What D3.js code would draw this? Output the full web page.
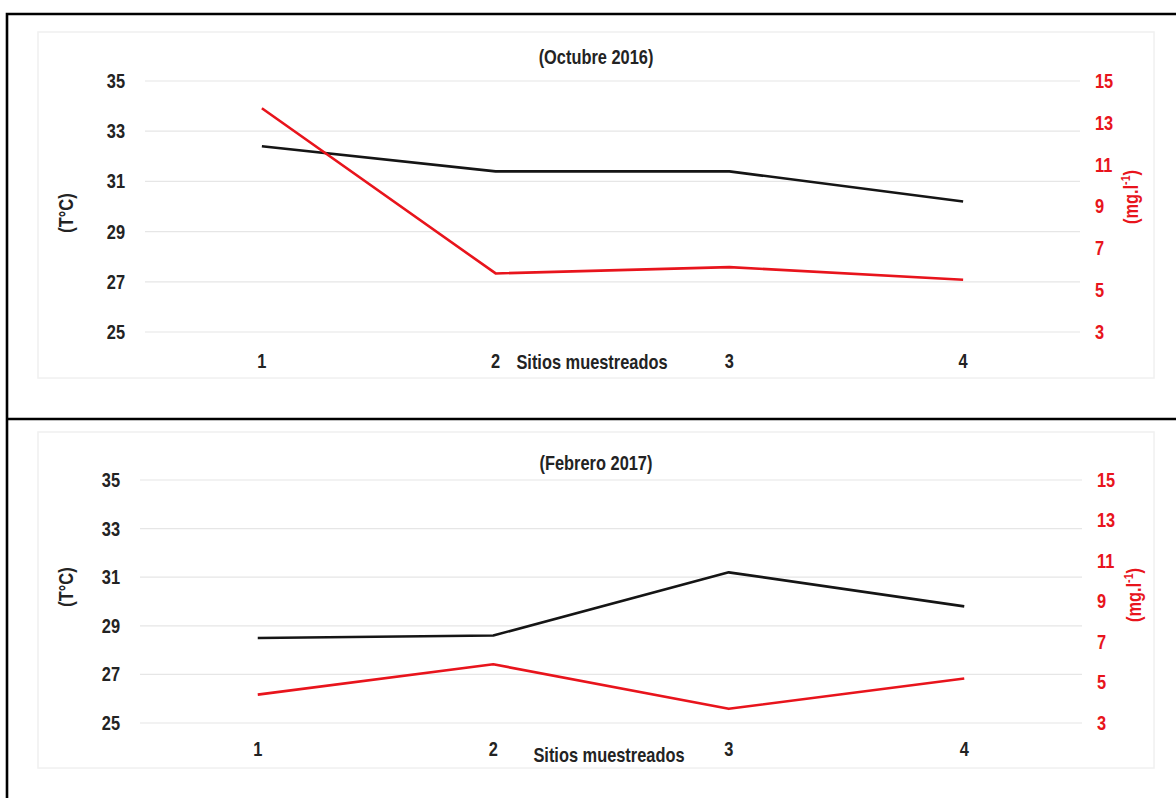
<!DOCTYPE html>
<html>
<head>
<meta charset="utf-8">
<script src="https://cdn.jsdelivr.net/npm/d3@7"></script>
<style>
  html, body { margin: 0; padding: 0; background: #fff; }
  svg { display: block; }
  .lbl { font-family: 'Liberation Sans', Arial, sans-serif; font-weight: bold; }
</style>
</head>
<body>
<svg id="chart" width="1176" height="798"></svg>
<script>
// ---- data ----
const sites = ['1', '2', '3', '4'];
const tempOct = [32.4, 31.4, 31.4, 30.2];
const oxyOct = [13.7, 5.8, 6.1, 5.5];
const tempFeb = [28.5, 28.6, 31.2, 29.8];
const oxyFeb = [4.4, 5.9, 3.7, 5.2];
const tempTicks = [25, 27, 29, 31, 33, 35];
const oxyTicks = [3, 5, 7, 9, 11, 13, 15];
const panelTitles = ['(Octubre 2016)', '(Febrero 2017)'];

const TEXT = '#232323';
const RED = '#e8141c';
const FS = 20;
const NARROW = 0.82; // fake "Arial Narrow" by squeezing Arial-metric text

const svg = d3.select('#chart');

// squeeze text horizontally around its own anchor point
function squeeze(sel) {
    sel.each(function () {
        const t = d3.select(this);
        const x = +t.attr('x') || 0;
        const y = +t.attr('y') || 0;
        t.attr('transform', `translate(${x},${y}) scale(${NARROW},1) translate(${-x},${-y})`);
    });
}

// panel geometry
const panels = [
    { title: panelTitles[0], temp: tempOct, oxy: oxyOct,
      x0: 145, x1: 1080, yTop: 81, yBot: 332,
      box: [38, 32, 1154, 378], titleY: 64, tickY: 368,
      xTitleX: 592, xTitleY: 369, yTitleY: 213, rTitleX: 1131, rTitleY: 197 },
    { title: panelTitles[1], temp: tempFeb, oxy: oxyFeb,
      x0: 140, x1: 1082, yTop: 480, yBot: 723,
      box: [38, 432, 1154, 768], titleY: 470, tickY: 756,
      xTitleX: 609, xTitleY: 762, yTitleY: 587, rTitleX: 1134, rTitleY: 595 }
];

panels.forEach(p => {
    const g = svg.append('g');

    // faint chart-area frame
    g.append('rect')
        .attr('x', p.box[0]).attr('y', p.box[1])
        .attr('width', p.box[2] - p.box[0]).attr('height', p.box[3] - p.box[1])
        .attr('fill', 'none').attr('stroke', '#f0f0f0').attr('stroke-width', 1.5);

    const x = d3.scaleBand().domain(sites).range([p.x0, p.x1]);
    const xc = d => x(d) + x.bandwidth() / 2;
    const yT = d3.scaleLinear().domain([25, 35]).range([p.yBot, p.yTop]);
    const yO = d3.scaleLinear().domain([3, 15]).range([p.yBot, p.yTop]);

    // gridlines
    g.selectAll('line.grid').data(tempTicks).join('line')
        .attr('class', 'grid')
        .attr('x1', p.x0).attr('x2', p.x1)
        .attr('y1', d => yT(d)).attr('y2', d => yT(d))
        .attr('stroke', '#e6e6e6').attr('stroke-width', 1.2);

    // left axis
    const left = g.append('g').attr('transform', `translate(${p.x0},0)`)
        .call(d3.axisLeft(yT).tickValues(tempTicks).tickSize(0).tickPadding(20));
    left.select('.domain').remove();
    left.selectAll('text').attr('class', 'lbl').attr('font-size', FS).attr('fill', TEXT).call(squeeze);

    // right axis
    const right = g.append('g').attr('transform', `translate(${p.x1},0)`)
        .call(d3.axisRight(yO).tickValues(oxyTicks).tickSize(0).tickPadding(15));
    right.select('.domain').remove();
    right.selectAll('text').attr('class', 'lbl').attr('font-size', FS).attr('fill', RED).call(squeeze);

    // x tick labels
    g.selectAll('text.xt').data(sites).join('text')
        .attr('class', 'xt lbl')
        .attr('x', d => xc(d)).attr('y', p.tickY)
        .attr('text-anchor', 'middle').attr('font-size', FS).attr('fill', TEXT)
        .text(d => d)
        .call(squeeze);

    // lines
    const lineT = d3.line().x((d, i) => xc(sites[i])).y(d => yT(d));
    const lineO = d3.line().x((d, i) => xc(sites[i])).y(d => yO(d));
    g.append('path').datum(p.temp).attr('d', lineT)
        .attr('fill', 'none').attr('stroke', '#151515').attr('stroke-width', 2.6)
        .attr('stroke-linejoin', 'round');
    g.append('path').datum(p.oxy).attr('d', lineO)
        .attr('fill', 'none').attr('stroke', RED).attr('stroke-width', 2.6)
        .attr('stroke-linejoin', 'round');

    // titles
    g.append('text').attr('class', 'lbl')
        .attr('x', 596).attr('y', p.titleY)
        .attr('text-anchor', 'middle').attr('font-size', FS).attr('fill', TEXT)
        .text(p.title)
        .call(squeeze);

    g.append('text').attr('class', 'lbl')
        .attr('x', p.xTitleX).attr('y', p.xTitleY)
        .attr('text-anchor', 'middle').attr('font-size', FS).attr('fill', TEXT)
        .text('Sitios muestreados')
        .call(squeeze);

    g.append('g').attr('transform', `translate(66,${p.yTitleY}) rotate(-90)`)
        .append('text').attr('class', 'lbl')
        .attr('text-anchor', 'middle').attr('dy', '0.35em')
        .attr('font-size', FS).attr('fill', TEXT)
        .text('(T°C)')
        .call(squeeze);

    const rt = g.append('g').attr('transform', `translate(${p.rTitleX},${p.rTitleY}) rotate(-90)`)
        .append('text').attr('class', 'lbl')
        .attr('text-anchor', 'middle').attr('dy', '0.35em')
        .attr('font-size', FS).attr('fill', RED)
        .call(squeeze);
    rt.append('tspan').text('(mg.l');
    rt.append('tspan').attr('font-size', 13).attr('dy', '-0.6em').text('-1');
    rt.append('tspan').attr('dy', '0.4em').text(')');
});

// outer table frame
svg.append('path')
    .attr('d', 'M7,798 V14 H1176 M7,419 H1176')
    .attr('fill', 'none').attr('stroke', '#000').attr('stroke-width', 2.6);
</script>
</body>
</html>
